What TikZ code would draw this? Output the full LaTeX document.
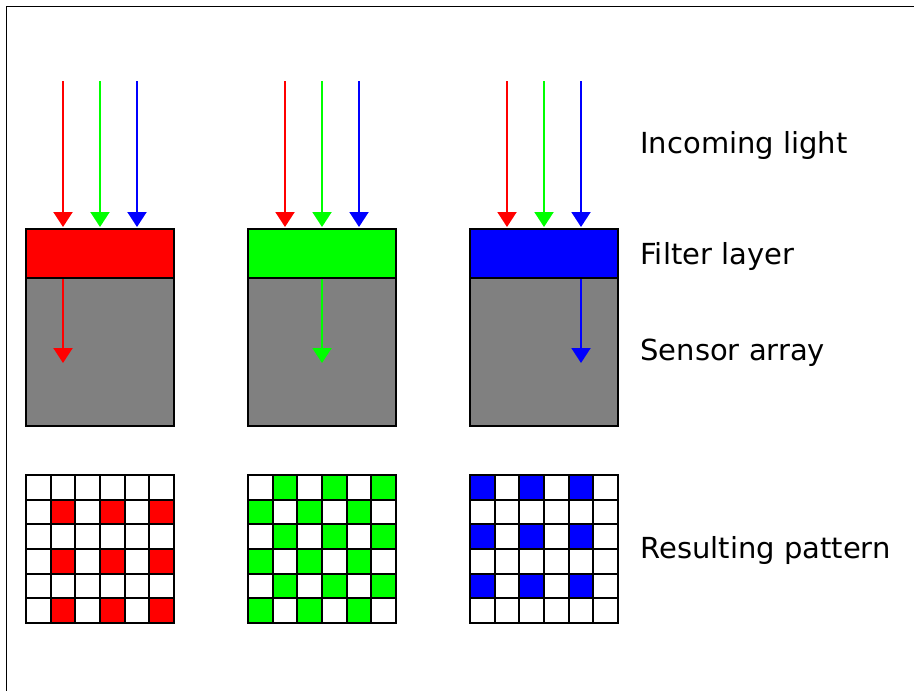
\documentclass[tikz,border=0pt]{standalone}
\usepackage{fontspec}
\setmainfont{DejaVu Sans}
\usetikzlibrary{arrows.meta}
\definecolor{filterred}{RGB}{255,0,0}
\definecolor{filtergreen}{RGB}{0,255,0}
\definecolor{filterblue}{RGB}{0,0,255}
\definecolor{sensorgray}{RGB}{128,128,128}

\begin{document}
\begin{tikzpicture}[x=0.5pt,y=-0.5pt,
    filter/.style={draw,line width=1pt,minimum width=74pt,minimum height=24.5pt,inner sep=0pt},
    sensor/.style={draw,line width=1pt,fill=sensorgray,minimum width=74pt,minimum height=74pt,inner sep=0pt},
    cell/.style={draw,line width=1pt,minimum size=12.333pt,inner sep=0pt},
    light/.style={line width=1pt,-{Triangle[width=9.5pt,length=7.5pt]}},
    sidetext/.style={anchor=base west,inner sep=0pt,font=\fontsize{14.5}{17}\selectfont}]
\useasboundingbox (0,0) rectangle (914,691);
\draw[line width=0.7pt] (914,6.5) -- (6.5,6.5) -- (6.5,691);
% filter + sensor per colour
\foreach \X/\col/\dx [count=\i] in {0/filterred/63,222/filtergreen/100,444/filterblue/137} {
    \node[sensor] (sensor\i) at (\X+100,352) {};
    \node[filter,fill=\col] (filter\i) at (\X+100,253.5) {};
    \foreach \lx/\lc [count=\j] in {63/filterred,100/filtergreen,137/filterblue} {
        \coordinate (in\i\j) at (\X+\lx,81);
        \draw[light,\lc,shorten >=0.5pt] (in\i\j) -- (in\i\j |- filter\i.north);
    }
    \coordinate (hit\i) at (\X+\dx,363);
    \draw[light,\col] (hit\i |- filter\i.south) -- (hit\i);
}
% resulting pattern
\foreach \X/\col/\pat in {0/filterred/1,222/filtergreen/2,444/filterblue/3}
  \foreach \r in {0,...,5}
    \foreach \c in {0,...,5} {
        \pgfmathtruncatemacro\on{\pat==1 ? and(isodd(\r),isodd(\c)) : (\pat==2 ? isodd(\r+\c) : and(iseven(\r),iseven(\c)))}
        \ifnum\on=1 \def\cellfill{\col}\else\def\cellfill{white}\fi
        \node[cell,fill=\cellfill] (cell\pat-\r\c) at ({\X+38.333+24.667*\c},{487.333+24.667*\r}) {};
    }
\node[sidetext] (incoming) at (640,153) {Incoming light};
\node[sidetext] (filterlayer) at (640,264) {Filter layer};
\node[sidetext] (sensorarray) at (640,360) {Sensor array};
\node[sidetext] (pattern) at (640,558) {Resulting pattern};
\end{tikzpicture}
\end{document}
